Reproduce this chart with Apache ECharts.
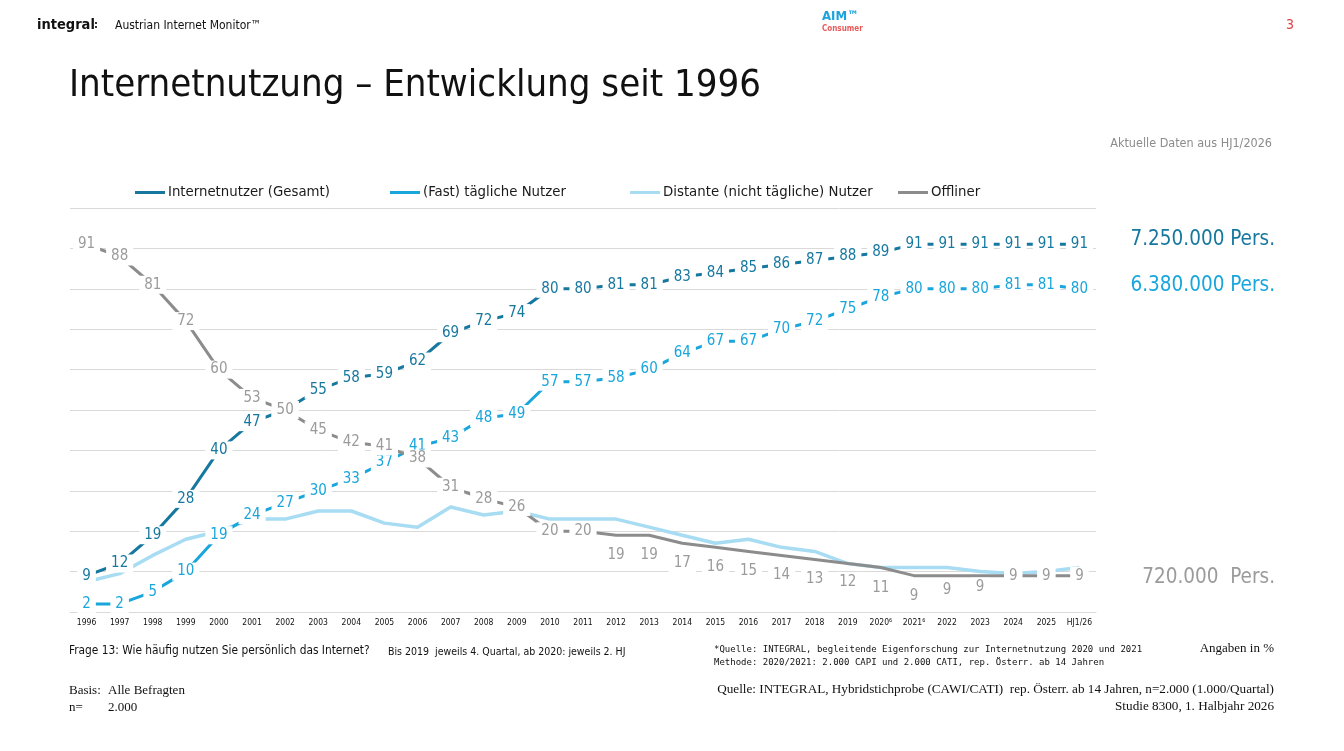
<!DOCTYPE html>
<html>
<head>
<meta charset="utf-8">
<title>Internetnutzung – Entwicklung seit 1996</title>
<script src="https://cdn.jsdelivr.net/npm/echarts@6/dist/echarts.min.js"></script>
<style>
  html, body { margin: 0; padding: 0; background: #fff; }
  #chart { width: 1344px; height: 751px; }
</style>
</head>
<body>
<div id="chart"></div>
<script>
// Kategorien (Erhebungszeitpunkte)
var years = ['1996', '1997', '1998', '1999', '2000', '2001', '2002', '2003', '2004', '2005',
  '2006', '2007', '2008', '2009', '2010', '2011', '2012', '2013', '2014', '2015',
  '2016', '2017', '2018', '2019', '2020⁶', '2021⁶', '2022', '2023', '2024', '2025', 'HJ1/26']

// Werte in %
var internetGesamt = [9, 12, 19, 28, 40, 47, 50, 55, 58, 59, 62, 69, 72, 74, 80, 80, 81, 81, 83, 84,
  85, 86, 87, 88, 89, 91, 91, 91, 91, 91, 91]
var fastTaeglich = [2, 2, 5, 10, 19, 24, 27, 30, 33, 37, 41, 43, 48, 49, 57, 57, 58, 60, 64, 67,
  67, 70, 72, 75, 78, 80, 80, 80, 81, 81, 80]
var distante = [7.5, 9.5, 14, 18, 20, 23, 23, 25, 25, 22, 21, 26, 24, 25, 23, 23, 23, 21, 19, 17,
  18, 16, 15, 12, 11, 11, 11, 10, 9.5, 10, 11]
var offliner = [91, 88, 81, 72, 60, 53, 50, 45, 42, 41, 38, 31, 28, 26, 20, 20, 19, 19, 17, 16,
  15, 14, 13, 12, 11, 9, 9, 9, 9, 9, 9]

var seriesNames = ['Internetnutzer (Gesamt)', '(Fast) tägliche Nutzer', 'Distante (nicht tägliche) Nutzer', 'Offliner']

// Label-Versatz der Offliner-Werte (nach unten verschoben ab 2012)
var offlinerLabelDy = [0, 0, 0, 0, 0, 0, 0, 0, 0, 0, 0, 0, 0, 0, 0, 0, 20, 20, 20, 20,
  20, 20, 20, 19, 21, 20, 14, 11, 0, 0, 0]

var C_DARK = '#17789f'
var C_FAST = '#19a6dc'
var C_DIST = '#a7dcf2'
var C_GRAY = '#8c8c8c'
var C_GRAYTXT = '#9b9b9b'
var FONT = "'DejaVu Sans Condensed', 'DejaVu Sans', sans-serif"
var SERIF = "'Liberation Serif', serif"
var MONO = "'DejaVu Sans Mono', monospace"

var chart = echarts.init(document.getElementById('chart'), null, { renderer: 'canvas' })

var valueLabel = function (color) {
  return {
    show: true,
    position: 'inside',
    color: color,
    fontFamily: FONT,
    fontSize: 15,
    backgroundColor: '#fff',
    padding: [2, 5, 1, 5]
  }
}

var offlinerData = offliner.map(function (v, i) {
  return { value: v, label: { offset: [0, offlinerLabelDy[i]] } }
})

var legendItem = function (name, left, color) {
  return {
    data: [name],
    left: left,
    top: 180,
    icon: 'rect',
    itemWidth: 30,
    itemHeight: 3,
    itemGap: 0,
    selectedMode: false,
    textStyle: { fontFamily: FONT, fontSize: 14.8, color: '#1a1a1a', padding: [0, 0, 0, -2] },
    itemStyle: { color: color }
  }
}

var txt = function (x, y, text, size, color, family, align, weight) {
  return {
    type: 'text',
    x: x,
    y: y,
    style: {
      text: text,
      fontSize: size,
      fill: color,
      fontFamily: family,
      fontWeight: weight || 'normal',
      textAlign: align || 'left',
      textVerticalAlign: 'middle'
    }
  }
}

var option = {
  backgroundColor: '#fff',
  animation: false,
  grid: { left: 70, right: 248, top: 208, bottom: 139 },
  legend: [
    legendItem(seriesNames[0], 130, C_DARK),
    legendItem(seriesNames[1], 385, C_FAST),
    legendItem(seriesNames[2], 625, C_DIST),
    legendItem(seriesNames[3], 893, C_GRAY)
  ],
  xAxis: {
    type: 'category',
    data: years,
    boundaryGap: true,
    axisLine: { lineStyle: { color: '#d9d9d9', width: 1 } },
    axisTick: { show: false },
    axisLabel: { color: '#111', fontFamily: FONT, fontSize: 8.5, margin: 6, interval: 0 }
  },
  yAxis: {
    type: 'value',
    min: 0,
    max: 100,
    interval: 10,
    axisLabel: { show: false },
    axisLine: { show: false },
    axisTick: { show: false },
    splitLine: { lineStyle: { color: '#d9d9d9', width: 1 } }
  },
  series: [
    {
      name: seriesNames[2],
      type: 'line',
      data: distante,
      symbol: 'none',
      lineStyle: { color: C_DIST, width: 3.5 },
      itemStyle: { color: C_DIST },
      z: 2
    },
    {
      name: seriesNames[1],
      type: 'line',
      data: fastTaeglich,
      symbol: 'circle',
      symbolSize: 0.1,
      lineStyle: { color: C_FAST, width: 3 },
      itemStyle: { color: C_FAST },
      label: valueLabel(C_FAST),
      z: 3
    },
    {
      name: seriesNames[0],
      type: 'line',
      data: internetGesamt,
      symbol: 'circle',
      symbolSize: 0.1,
      lineStyle: { color: C_DARK, width: 3 },
      itemStyle: { color: C_DARK },
      label: valueLabel(C_DARK),
      z: 4
    },
    {
      name: seriesNames[3],
      type: 'line',
      data: offlinerData,
      symbol: 'circle',
      symbolSize: 0.1,
      lineStyle: { color: C_GRAY, width: 3 },
      itemStyle: { color: C_GRAY },
      label: valueLabel(C_GRAYTXT),
      z: 5
    }
  ],
  graphic: [
    // Kopfzeile
    txt(37, 25, 'integral', 14.5, '#111', FONT, 'left', 'bold'),
    txt(94, 25, ':', 11, '#111', FONT, 'left', 'bold'),
    txt(115, 26, 'Austrian Internet Monitor™', 12, '#111', FONT),
    txt(822, 17, 'AIM™', 13, '#1aa3dd', FONT, 'left', 'bold'),
    txt(822, 29, 'Consumer', 8, '#e85a5a', FONT, 'left', 'bold'),
    txt(1290, 25, '3', 14, '#e04040', FONT, 'center'),
    // Titel
    txt(69, 86, 'Internetnutzung – Entwicklung seit 1996', 38, '#111', FONT),
    txt(1272, 144, 'Aktuelle Daten aus HJ1/2026', 12.5, '#8c8c8c', FONT, 'right'),
    // Hochrechnung rechts
    txt(1275, 240, '7.250.000 Pers.', 20.5, C_DARK, FONT, 'right'),
    txt(1275, 286, '6.380.000 Pers.', 20.5, C_FAST, FONT, 'right'),
    txt(1275, 578, '720.000  Pers.', 20.5, C_GRAYTXT, FONT, 'right'),
    // Fußzeile
    txt(69, 651, 'Frage 13: Wie häufig nutzen Sie persönlich das Internet?', 11.8, '#111', FONT),
    txt(388, 652, 'Bis 2019  jeweils 4. Quartal, ab 2020: jeweils 2. HJ', 10.5, '#111', FONT),
    txt(69, 691, 'Basis:', 13, '#111', SERIF),
    txt(108, 691, 'Alle Befragten', 13, '#111', SERIF),
    txt(69, 708, 'n=', 13, '#111', SERIF),
    txt(108, 708, '2.000', 13, '#111', SERIF),
    txt(714, 650, '*Quelle: INTEGRAL, begleitende Eigenforschung zur Internetnutzung 2020 und 2021', 9, '#111', MONO),
    txt(714, 663, 'Methode: 2020/2021: 2.000 CAPI und 2.000 CATI, rep. Österr. ab 14 Jahren', 9, '#111', MONO),
    txt(1274, 649, 'Angaben in %', 13, '#111', SERIF, 'right'),
    txt(1274, 690, 'Quelle: INTEGRAL, Hybridstichprobe (CAWI/CATI)  rep. Österr. ab 14 Jahren, n=2.000 (1.000/Quartal)', 13.2, '#111', SERIF, 'right'),
    txt(1274, 707, 'Studie 8300, 1. Halbjahr 2026', 13.2, '#111', SERIF, 'right')
  ]
}

chart.setOption(option)
</script>
</body>
</html>
